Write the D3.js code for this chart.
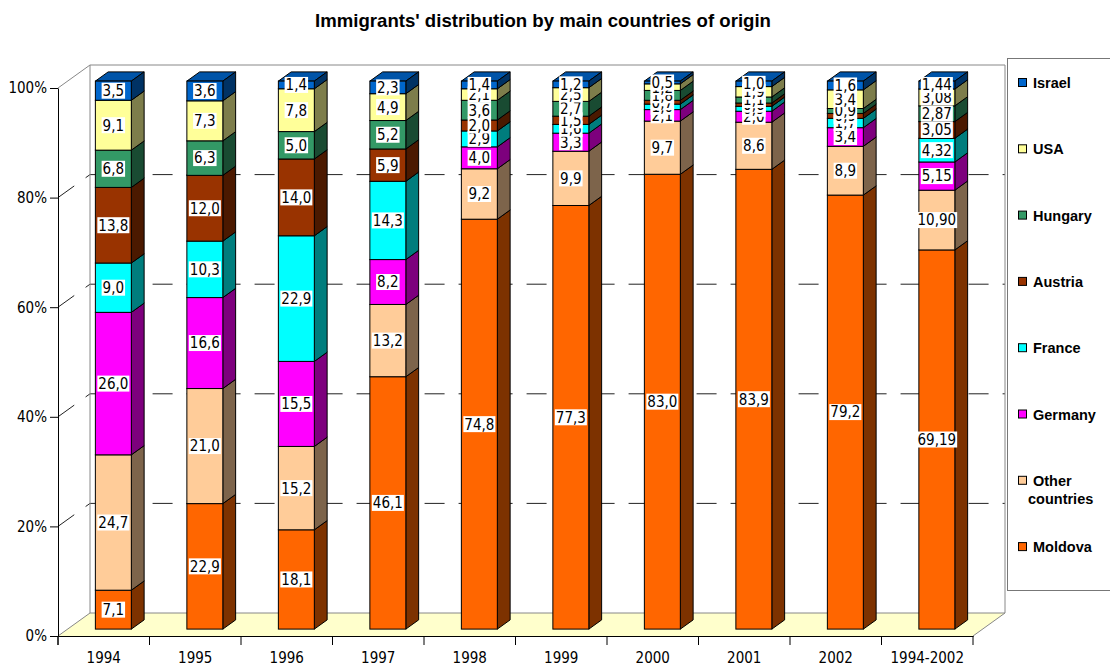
<!DOCTYPE html>
<html>
<head>
<meta charset="utf-8">
<script src="https://cdn.jsdelivr.net/npm/d3@7"></script>
<style>
  body { margin: 0; background: #fff; }
  svg { display: block; }
</style>
</head>
<body>
<svg id="chart" width="1110" height="667"></svg>
<script>
// Immigrants' distribution by main countries of origin (shares, %)
const categories = ["1994", "1995", "1996", "1997", "1998", "1999", "2000", "2001", "2002", "1994-2002"];
const seriesNames = ["Moldova", "Other countries", "Germany", "France", "Austria", "Hungary", "USA", "Israel"];
const seriesColors = ["#FF6600", "#FFCC99", "#FF00FF", "#00FFFF", "#993300", "#339966", "#FFFF99", "#0066CC"];

const moldova        = [7.1, 22.9, 18.1, 46.1, 74.8, 77.3, 83.0, 83.9, 79.2, 69.19];
const otherCountries = [24.7, 21.0, 15.2, 13.2, 9.2, 9.9, 9.7, 8.6, 8.9, 10.90];
const germany        = [26.0, 16.6, 15.5, 8.2, 4.0, 3.3, 2.1, 2.0, 3.4, 5.15];
const france         = [9.0, 10.3, 22.9, 14.3, 2.9, 1.6, 1.0, 0.9, 1.7, 4.32];
const austria        = [13.8, 12.0, 14.0, 5.9, 2.0, 1.5, 0.7, 0.6, 0.9, 3.05];
const hungary        = [6.8, 6.3, 5.0, 5.2, 3.6, 2.7, 1.8, 1.1, 0.9, 2.87];
const usa            = [9.1, 7.3, 7.8, 4.9, 2.1, 2.5, 1.2, 1.9, 3.4, 3.08];
const israel         = [3.5, 3.6, 1.4, 2.3, 1.4, 1.2, 0.5, 1.0, 1.6, 1.44];

const labelDecimals = [1, 1, 1, 1, 1, 1, 1, 1, 1, 2];
const yTicks = [0, 0.2, 0.4, 0.6, 0.8, 1];

const seriesValues = [moldova, otherCountries, germany, france, austria, hungary, usa, israel];
const rows = categories.map((c, i) => {
  const r = { category: c, index: i };
  seriesNames.forEach((s, k) => { r[s] = seriesValues[k][i]; });
  return r;
});

const svg = d3.select("#chart");
const plot = { left: 58, right: 973, top: 88, bottom: 636 };
const depth = { dx: 32, dy: 23 };          // projection offset of the back wall
const barNear = 0.3, barFar = 0.7;         // bar depth span inside the floor

const axisFont = "'DejaVu Sans Condensed', 'DejaVu Sans', sans-serif";
const boldFont = "'Liberation Sans', Arial, sans-serif";

const x = d3.scaleBand().domain(categories)
  .range([plot.left, plot.right])
  .paddingInner(0.607).paddingOuter(0.3035);
const y = d3.scaleLinear().domain([0, 1]).range([plot.bottom, plot.top]);

const stack = d3.stack().keys(seriesNames).offset(d3.stackOffsetExpand);
const stacked = stack(rows);

// ---- walls and floor ----
const bx = plot.left + depth.dx, by = plot.top - depth.dy;
const backRight = plot.right + depth.dx, backBottom = plot.bottom - depth.dy;
const walls = svg.append("g");
walls.append("rect").attr("x", bx).attr("y", by)
  .attr("width", backRight - bx).attr("height", backBottom - by).attr("fill", "#fff");
walls.append("polygon")
  .attr("points", [[plot.left, plot.bottom], [plot.right, plot.bottom], [backRight, backBottom], [bx, backBottom]].join(" "))
  .attr("fill", "#FFFFCC");

// dashed gridlines on the side and back walls
const grid = svg.append("g").attr("fill", "none").attr("stroke", "#222").attr("stroke-width", 1)
  .attr("stroke-dasharray", "20,14");
yTicks.filter(t => t > 0 && t < 1).forEach(t => {
  grid.append("path").attr("d",
    `M${plot.left},${y(t)}L${bx},${y(t) - depth.dy}L${backRight},${y(t) - depth.dy}`);
});

const edges = svg.append("g").attr("stroke", "#888").attr("stroke-width", 1).attr("fill", "none");
[
  [[plot.left, plot.top], [bx, by]],
  [[bx, by], [backRight, by]],
  [[backRight, by], [backRight, backBottom]],
  [[bx, by], [bx, backBottom]],
  [[bx, backBottom], [backRight, backBottom]],
  [[plot.left, plot.bottom], [bx, backBottom]],
  [[plot.right, plot.bottom], [backRight, backBottom]]
].forEach(([a, b]) => edges.append("line")
  .attr("x1", a[0]).attr("y1", a[1]).attr("x2", b[0]).attr("y2", b[1]));

// ---- 3D stacked columns ----
const bw = x.bandwidth();
const ox = depth.dx * barNear, oy = depth.dy * barNear;
const ddx = depth.dx * (barFar - barNear), ddy = depth.dy * (barFar - barNear);

const bars = svg.append("g").attr("stroke", "#000").attr("stroke-width", 1);
const labelItems = [];
stacked.forEach((layer, k) => {
  const base = d3.color(seriesColors[k]);
  const side = base.darker(2).formatHex();
  const top = base.darker(0.55).formatHex();
  layer.forEach(d => {
    const c = d.data.category;
    const x0 = x(c) + ox, x1 = x0 + bw;
    const yb = y(d[0]) - oy, yt = y(d[1]) - oy;
    const g = bars.append("g");
    g.append("polygon")
      .attr("points", [[x0, yt], [x1, yt], [x1 + ddx, yt - ddy], [x0 + ddx, yt - ddy]].join(" "))
      .attr("fill", top);
    g.append("polygon")
      .attr("points", [[x1, yt], [x1 + ddx, yt - ddy], [x1 + ddx, yb - ddy], [x1, yb]].join(" "))
      .attr("fill", side);
    g.append("rect").attr("x", x0).attr("y", yt).attr("width", bw).attr("height", yb - yt)
      .attr("fill", base.formatHex());
    const v = d.data[seriesNames[k]];
    labelItems.push({
      cx: x0 + bw / 2, cy: (yt + yb) / 2,
      text: v.toFixed(labelDecimals[d.data.index]).replace(".", ",")
    });
  });
});

// value labels, lower series first so upper labels sit on top
const labels = svg.append("g");
labelItems.forEach(l => {
  const g = labels.append("g");
  const r = g.append("rect").attr("fill", "#fff");
  const t = g.append("text").attr("x", l.cx).attr("y", l.cy).attr("dy", "0.36em")
    .attr("text-anchor", "middle").attr("font-family", axisFont).attr("font-size", 15)
    .attr("fill", "#000").text(l.text);
  const w = t.node().getComputedTextLength();
  r.attr("x", l.cx - w / 2 - 1).attr("y", l.cy - 8).attr("width", w + 2).attr("height", 16);
});

// ---- axes ----
const yAxis = svg.append("g").attr("transform", `translate(${plot.left},0)`)
  .call(d3.axisLeft(y).tickValues(yTicks).tickFormat(d3.format(".0%")).tickSize(8).tickSizeOuter(0).tickPadding(3));
yAxis.select(".domain").attr("stroke", "#000");
yAxis.selectAll(".tick line").attr("stroke", "#000");
yAxis.selectAll("text").attr("font-family", axisFont).attr("font-size", 15).attr("fill", "#000");
svg.append("line").attr("x1", plot.left).attr("x2", plot.left)
  .attr("y1", plot.bottom).attr("y2", plot.bottom + 9).attr("stroke", "#000");

const xAxis = svg.append("g").attr("transform", `translate(0,${plot.bottom})`)
  .call(d3.axisBottom(x).tickSize(0).tickSizeOuter(0).tickPadding(16));
xAxis.select(".domain").attr("stroke", "#000");
xAxis.selectAll("text").attr("font-family", axisFont).attr("font-size", 15).attr("fill", "#000");
const gap = x.step() - bw;
const bounds = categories.map(c => x(c) - gap / 2).concat([plot.right]);
xAxis.selectAll(".bound").data(bounds).enter().append("line")
  .attr("x1", d => d).attr("x2", d => d).attr("y1", 0).attr("y2", 9).attr("stroke", "#000");

// ---- title ----
svg.append("text").attr("x", 543).attr("y", 27).attr("text-anchor", "middle")
  .attr("font-family", boldFont).attr("font-weight", "bold").attr("font-size", 18.6)
  .text("Immigrants' distribution by main countries of origin");

// ---- legend ----
const legend = svg.append("g");
legend.append("rect").attr("x", 1007.5).attr("y", 58.5).attr("width", 130).attr("height", 532)
  .attr("fill", "#fff").attr("stroke", "#777");
const legendOrder = seriesNames.map((s, k) => k).reverse();
legendOrder.forEach((k, i) => {
  const cy = 83 + i * 66.3;
  legend.append("rect").attr("x", 1018.5).attr("y", cy - 4.5).attr("width", 8).attr("height", 8)
    .attr("fill", seriesColors[k]).attr("stroke", "#000");
  const t = legend.append("text").attr("font-family", boldFont).attr("font-weight", "bold")
    .attr("font-size", 14.5).attr("fill", "#000");
  const words = seriesNames[k].split(" ");
  if (words.length > 1) {
    t.append("tspan").attr("x", 1033).attr("y", cy).attr("dy", "0.35em").text(words[0]);
    t.append("tspan").attr("x", 1028).attr("y", cy + 18).attr("dy", "0.35em").text(words.slice(1).join(" "));
  } else {
    t.attr("x", 1033).attr("y", cy).attr("dy", "0.35em").text(seriesNames[k]);
  }
});
</script>
</body>
</html>
